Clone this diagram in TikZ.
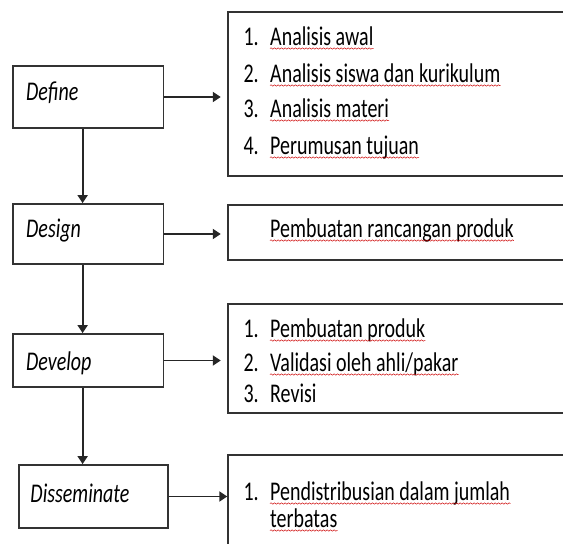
\documentclass[tikz,border=0pt]{standalone}
\usepackage{fontspec}
\setmainfont{Carlito}[FakeStretch=0.74]
\usetikzlibrary{arrows.meta,decorations.pathmorphing}
\newcommand\diagfont{\fontsize{27}{32}\selectfont}
\tikzset{
  stage/.style={draw=black!80, line width=1.8pt, minimum width=150.5pt, text width=124pt,
    align=left, inner xsep=13.3pt, font=\diagfont\itshape},
  listbox/.style={draw=black!80, line width=1.8pt, minimum width=360pt, anchor=north west},
  item/.style={anchor=base west, inner sep=0pt, font=\diagfont},
  wavy/.style={draw=red!80!black, line width=0.5pt, decorate,
    decoration={snake, amplitude=0.7pt, segment length=3.5pt}},
  spell/.style={item, append after command={([yshift=-3.5pt]\tikzlastnode.base west)
    edge[wavy] ([yshift=-3.5pt]\tikzlastnode.base east)}},
  flow/.style={draw=black!85, line width=1.8pt, -{Triangle[length=8pt,width=10pt]}}
}
\begin{document}
\begin{tikzpicture}[x=1pt,y=-1pt]
  \useasboundingbox (0,0) rectangle (563,544);
  \clip (0,0) rectangle (563,544);

  % stages
  \node[stage, minimum height=62pt, text height=18pt, text depth=12pt] (define) at (88.2,97) {Define};
  \node[stage, minimum height=60pt, text height=18pt, text depth=12pt] (design) at (88.2,234) {Design};
  \node[stage, minimum height=53pt, text height=25pt, text depth=6pt] (develop) at (88.2,360.5) {Develop};
  \node[stage, minimum height=63pt, minimum width=149pt, text width=125.4pt, inner xsep=11.8pt,
    text height=20pt, text depth=9pt] (dissem) at (93.2,496.5) {Disseminate};

  % lists
  \node[listbox, minimum height=164pt] (definelist) at (227.3,11) {};
  \node[listbox, minimum height=55pt] (designlist) at (227.3,204) {};
  \node[listbox, minimum height=109pt] (developlist) at (227.3,303) {};
  \node[listbox, minimum height=100pt] (dissemlist) at (227.3,454) {};

  \node[item] (dn1) at (243.4,45) {1.};
  \node[spell] (dt1) at (270,45) {Analisis awal};
  \node[item] (dn2) at (243.4,82) {2.};
  \node[spell] (dt2) at (270,82) {Analisis siswa dan kurikulum};
  \node[item] (dn3) at (243.4,117) {3.};
  \node[spell] (dt3) at (270,117) {Analisis materi};
  \node[item] (dn4) at (243.4,154) {4.};
  \node[spell] (dt4) at (270,154) {Perumusan tujuan};

  \node[spell] (gt1) at (270,237) {Pembuatan rancangan produk};

  \node[item] (vn1) at (243.4,337) {1.};
  \node[spell] (vt1) at (270,337) {Pembuatan produk};
  \node[item] (vn2) at (243.4,371) {2.};
  \node[spell] (vt2) at (270,371) {Validasi oleh ahli/pakar};
  \node[item] (vn3) at (243.4,402) {3.};
  \node[item] (vt3) at (270,402) {Revisi};

  \node[item] (sn1) at (243.4,500) {1.};
  \node[spell] (st1) at (270,500) {Pendistribusian dalam jumlah};
  \node[spell] (st2) at (270,527) {terbatas};

  % arrows
  \draw[flow, shorten >=6.5pt] (define.east) -- (define.east -| definelist.west);
  \draw[flow, shorten >=6.5pt] (design.east) -- (design.east -| designlist.west);
  \draw[flow, shorten >=6.5pt] (develop.east) -- (develop.east -| developlist.west);
  \draw[flow] (dissem.east) -- (dissem.east -| dissemlist.west);

  \draw[flow] ([xshift=-5.6pt]define.south) -- ([xshift=-5.6pt]define.south |- design.north);
  \draw[flow] ([xshift=-5.6pt]design.south) -- ([xshift=-5.6pt]design.south |- develop.north);
  \draw[flow] ([xshift=-5.6pt]develop.south) -- ([xshift=-5.6pt]develop.south |- dissem.north);
\end{tikzpicture}
\end{document}
